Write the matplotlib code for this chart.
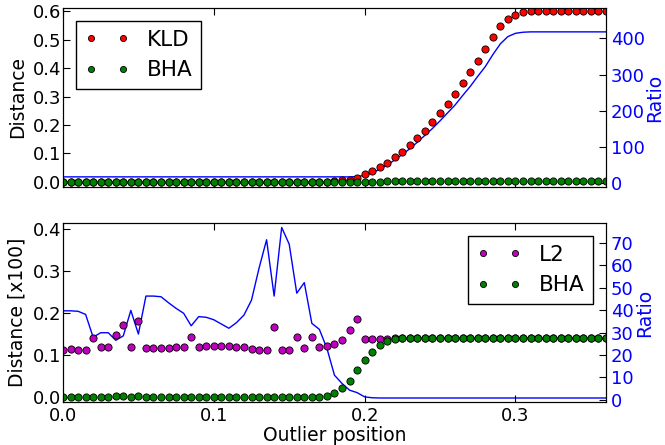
#-----------------------------------------------
# Outlier position vs distance / ratio
#-----------------------------------------------
import numpy as np
import matplotlib.pyplot as plt

#-----------------------------------------------
# Data
#-----------------------------------------------
pos = np.round(np.arange(73) * 0.005, 3)          # outlier position grid 0.0 .. 0.36

kld = np.array([0.0] * 36 + [
    0.002, 0.005, 0.008, 0.012, 0.027, 0.038, 0.053, 0.068, 0.088, 0.106,
    0.130, 0.155, 0.180, 0.210, 0.241, 0.274, 0.308, 0.347, 0.385, 0.426,
    0.467, 0.510, 0.547, 0.574, 0.589, 0.598] + [0.600] * 11)

ratio_top = np.array([17.0] * 39 + [
    18, 21, 28, 38, 50, 64, 79, 95, 113, 132,
    151, 172, 194, 216, 242, 267, 295, 322, 355, 385,
    405, 414, 417] + [418] * 11)

l2 = np.array([
    0.114, 0.115, 0.113, 0.112, 0.141, 0.120, 0.119, 0.148, 0.173, 0.120,
    0.183, 0.117, 0.118, 0.118, 0.118, 0.119, 0.119, 0.145, 0.121, 0.123,
    0.122, 0.122, 0.123, 0.119, 0.119, 0.116, 0.114, 0.112, 0.168, 0.112,
    0.113, 0.143, 0.117, 0.143, 0.121, 0.123, 0.127, 0.137, 0.160, 0.187,
    0.138, 0.139, 0.140, 0.140] + [0.141] * 29)

bha_x100 = np.array([
    0.001, 0.001, 0.001, 0.002, 0.002, 0.002, 0.002, 0.003, 0.003, 0.001,
    0.003, 0.001, 0.001, 0.001, 0.001, 0.001, 0.001, 0.002, 0.001, 0.001,
    0.001, 0.001, 0.001, 0.001, 0.001, 0.001, 0.0005, 0.0005, 0.001, 0.0,
    0.0005, 0.001, 0.001, 0.001, 0.002, 0.003, 0.0096, 0.0215, 0.040, 0.065,
    0.0885, 0.109, 0.124, 0.134, 0.140] + [0.142] * 28)

ratio_bot = np.array([
    39.7, 39.7, 39.5, 38.1, 27.9, 29.9, 29.9, 26.5, 28.5, 39.9,
    29.3, 46.3, 46.3, 46.0, 43.3, 40.8, 38.6, 33.0, 37.1, 36.8,
    35.7, 33.8, 31.9, 34.4, 37.8, 44.5, 58.8, 71.5, 46.3, 77.0,
    69.5, 47.6, 52.3, 34.1, 31.4, 22.9, 10.9, 7.2, 4.2, 3.1,
    1.2, 0.8] + [0.7] * 31)

#-----------------------------------------------
# Figure
#-----------------------------------------------
plt.rcParams['font.family'] = 'DejaVu Sans'
fig = plt.figure(figsize=(6.65, 4.45), dpi=100)

ax1 = fig.add_axes([0.0947, 0.5798, 0.8165, 0.4022])
ax2 = fig.add_axes([0.0947, 0.0966, 0.8165, 0.4023])

mk = dict(marker='o', linestyle='none', markersize=5.2,
          markeredgecolor='black', markeredgewidth=0.6)
red = (1.0, 0.0, 0.0)
green = (0.0, 0.5, 0.0)
magenta = (0.75, 0.0, 0.75)
leg = dict(numpoints=2, fontsize=15.5, markerscale=0.85, fancybox=False,
           edgecolor='black', framealpha=1, handlelength=2.1,
           borderaxespad=0.6)

#-----------------------------------------------
# Top panel : KLD / BHA
#-----------------------------------------------
ax1.plot(pos, kld, color=red, label='KLD', **mk)
ax1.plot(pos, bha_x100 / 100.0, color=green, label='BHA', **mk)
ax1.set_xlim(0, 0.36)
ax1.set_ylim(-0.018, 0.612)
ax1.set_yticks([0.0, 0.1, 0.2, 0.3, 0.4, 0.5, 0.6])
ax1.set_xticks([0.0, 0.1, 0.2, 0.3])
ax1.set_xticklabels([])
ax1.set_ylabel('Distance', fontsize=13.5, labelpad=4)
ax1.tick_params(direction='in', top=True, labelsize=13, length=5)
ax1.tick_params(axis='y', pad=1.5)
ax1.legend(loc='upper left', **leg)

ax1r = ax1.twinx()
ax1r.plot(pos, ratio_top, color='blue', linewidth=1.0)
ax1r.set_ylim(-11, 484)
ax1r.set_yticks([0, 100, 200, 300, 400])
ax1r.set_ylabel('Ratio', color='blue', fontsize=13.5, labelpad=0.5)
ax1r.tick_params(direction='in', labelsize=13, labelcolor='blue', length=5)

#-----------------------------------------------
# Bottom panel : L2 / BHA
#-----------------------------------------------
ax2.plot(pos, l2, color=magenta, label='L2', **mk)
ax2.plot(pos, bha_x100, color=green, label='BHA', **mk)
ax2.set_xlim(0, 0.36)
ax2.set_ylim(-0.011, 0.4155)
ax2.set_yticks([0.0, 0.1, 0.2, 0.3, 0.4])
ax2.set_xticks([0.0, 0.1, 0.2, 0.3])
ax2.set_xlabel('Outlier position', fontsize=13.5, labelpad=1)
ax2.set_ylabel('Distance [x100]', fontsize=13.5, labelpad=4)
ax2.tick_params(direction='in', top=True, labelsize=13, length=5)
ax2.tick_params(axis='y', pad=1.5)
ax2.legend(loc='upper right', **leg)

ax2r = ax2.twinx()
ax2r.plot(pos, ratio_bot, color='blue', linewidth=1.0)
ax2r.set_ylim(-1.1, 79)
ax2r.set_yticks([0, 10, 20, 30, 40, 50, 60, 70])
ax2r.set_ylabel('Ratio', color='blue', fontsize=13.5, labelpad=1)
ax2r.tick_params(direction='in', labelsize=13, labelcolor='blue', length=5)

# legend above the twin line
for a, ar in ((ax1, ax1r), (ax2, ax2r)):
    a.set_zorder(ar.get_zorder() + 1)
    a.patch.set_visible(False)

fig.savefig('out.png', dpi=100)
